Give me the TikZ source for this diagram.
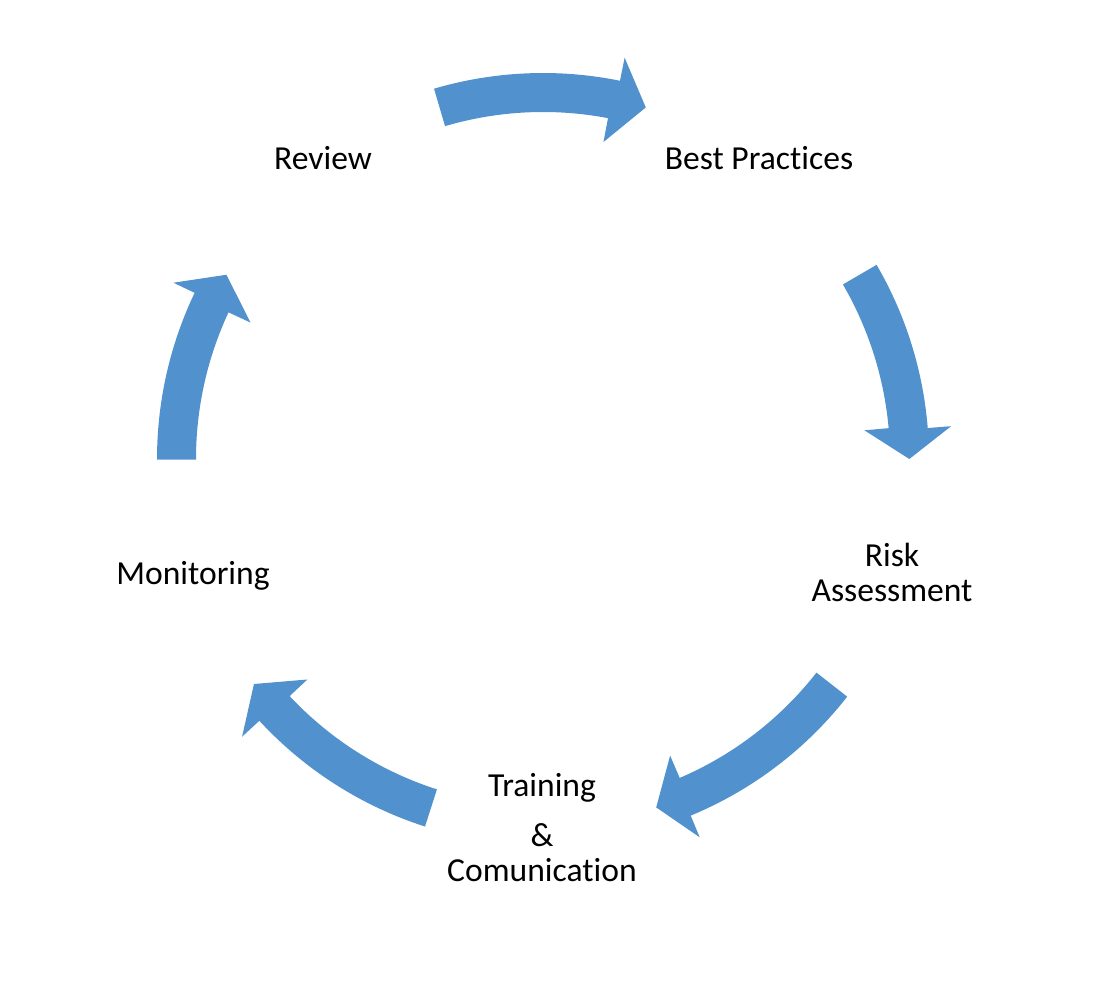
\documentclass[tikz,border=0pt]{standalone}
\usepackage{fontspec}
\setmainfont{Carlito}[Ligatures=CommonOff]
\usetikzlibrary{positioning}

\definecolor{cycleblue}{RGB}{81,146,206}
\tikzset{every node/.style={font=\fontsize{16.8}{17.5}\selectfont, align=center, inner sep=0pt, anchor=base}}
\tikzstyle{cyclearrow}=[fill=cycleblue, draw=none]

% block arrow bent round the hub: tail, outer head, inner head, tip (angles)
\newcommand{\bentarrow}[4]{%
  \fill[cyclearrow] (#1:386) arc[start angle=#1, end angle=#2, radius=386]
    -- (#2:409.5) -- (#4:366.3) -- (#3:322.7) -- (#3:347)
    arc[start angle=#3, end angle=#1, radius=347] -- cycle;}

\begin{document}
\begin{tikzpicture}[x=0.5pt, y=0.5pt]
  \useasboundingbox (0,0) rectangle (1106,980);
  \coordinate (hub) at (543,521);

  \begin{scope}[shift={(hub)}]
    \bentarrow{106.4}{78.5}{79.2}{73.7}
    \bentarrow{30.2}{4.6}{5.1}{0}
    \bentarrow{-38.0}{-67.5}{-66.8}{-72.0}
    \bentarrow{-107.8}{-137.3}{-136.9}{-142.1}
    \bentarrow{180.1}{154.5}{155.0}{149.8}
  \end{scope}

  % multi-line labels sit on their last line
  \node (review) at (323,810.7) {Review};
  \node (practices) at (759,810.7) {Best Practices};
  \node (risk) at (892,378.3) {Risk\\Assessment};
  \node (training) at (542,98.3) {Training\\[7.5pt]\&\\[0.2pt]Comunication};
  \node (monitoring) at (193,395) {Monitoring};
\end{tikzpicture}
\end{document}
